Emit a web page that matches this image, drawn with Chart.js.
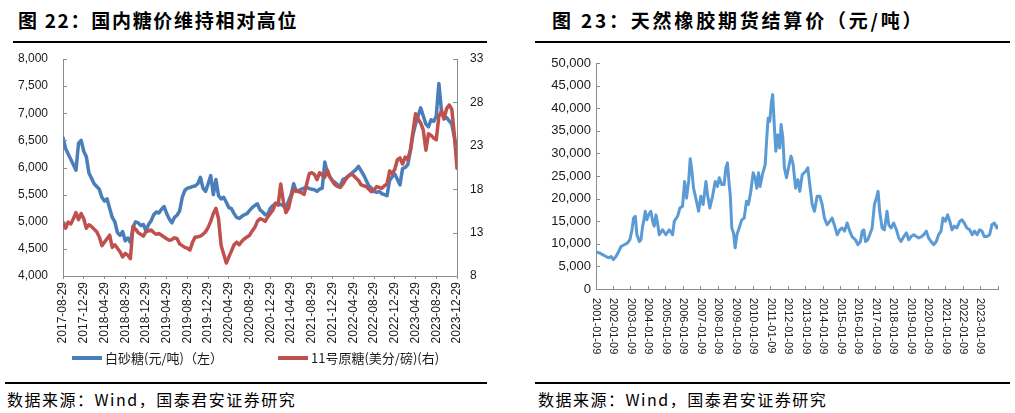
<!DOCTYPE html>
<html>
<head>
<meta charset="utf-8">
<script src="https://cdn.jsdelivr.net/npm/chart.js@4.4.0/dist/chart.umd.min.js"></script>
<style>
  body { margin: 0; width: 1015px; height: 413px; background: #fff; position: relative; overflow: hidden; font-family: "Noto Sans CJK SC", sans-serif; }
  .title { position: absolute; top: 8px; font-size: 19px; font-weight: bold; letter-spacing: 1.7px; line-height: 24px; color: #000; white-space: nowrap; }
  .rule { position: absolute; height: 2px; background: #000; }
  .src { position: absolute; top: 389px; font-size: 16px; letter-spacing: 1.5px; line-height: 20px; color: #000; white-space: nowrap; }
  canvas { position: absolute; }
</style>
</head>
<body>
<div class="title" style="left:18px">图 22：国内糖价维持相对高位</div>
<div class="rule" style="left:13px;width:474px;top:41px"></div>
<div class="title" style="left:552px;letter-spacing:2.8px">图 23：天然橡胶期货结算价（元/吨）</div>
<div class="rule" style="left:535px;width:475px;top:41px"></div>

<canvas id="sugarChart" width="495" height="325" style="left:0;top:50px"></canvas>
<canvas id="rubberChart" width="500" height="320" style="left:510px;top:50px"></canvas>

<div class="rule" style="left:5px;width:482px;top:382px"></div>
<div class="src" style="left:7px">数据来源：Wind，国泰君安证券研究</div>
<div class="rule" style="left:535px;width:475px;top:382px"></div>
<div class="src" style="left:538px">数据来源：Wind，国泰君安证券研究</div>

<script>
// ---- sugar: half-month steps from 2017-08-29 to 2023-12-29 ----
const sugarTickLabels = ['2017-08-29','2017-12-29','2018-04-29','2018-08-29','2018-12-29','2019-04-29','2019-08-29',
  '2019-12-29','2020-04-29','2020-08-29','2020-12-29','2021-04-29','2021-08-29','2021-12-29','2022-04-29',
  '2022-08-29','2022-12-29','2023-04-29','2023-08-29','2023-12-29'];

// 白砂糖 (元/吨)
const whiteSugar = [
  6550,6350,6250,6150,6050,5950,6450,6500, 6300,6200,5900,5800,5700,5650,5600,5450,
  5380,5420,5250,5080,5000,4800,4750,4820, 4650,4700,4620,4900,5000,4980,4930,4950,
  4830,4950,5020,5130,5180,5160,5230,5280, 5150,5050,4980,5080,5120,5200,5450,5580,
  5620,5630,5650,5660,5700,5820,5620,5560, 5700,5850,5500,5780,5480,5420,5450,5360,
  5260,5240,5150,5080,5060,5100,5130,5150, 5210,5260,5300,5330,5220,5180,5130,5140,
  5250,5300,5330,5310,5320,5290,5270,5380, 5500,5700,5560,5580,5600,5620,5640,5610,
  5600,5590,5560,5600,5620,6100,5900,5820, 5760,5720,5680,5660,5780,5800,5840,5880,
  5920,5960,6020,5940,5860,5760,5660,5620, 5560,5540,5560,5520,5500,5480,5760,5830,
  5880,5780,5680,5980,6000,6050,6300,6600, 6800,6950,7100,6950,6800,6750,6880,6850,
  6950,7550,7050,6900,6920,6860,6800,6550,6300
];

// 11号原糖 (美分/磅)
const rawSugar = [
  14.2,13.5,14.2,14.0,14.6,15.3,14.5,15.2, 14.6,13.5,13.9,13.7,13.4,13.1,12.5,11.5,
  11.9,12.3,12.7,11.3,11.6,11.2,10.8,10.2, 10.6,10.4,10.0,13.7,13.4,13.0,12.8,12.6,
  13.1,13.2,13.3,13.0,12.8,12.9,12.7,12.5, 12.3,12.1,12.2,12.4,12.3,11.7,11.5,11.3,
  11.2,11.0,11.9,12.5,12.5,12.6,12.8,13.1, 13.6,14.3,15.2,15.8,14.6,11.5,10.5,9.5,
  10.2,10.9,11.6,11.9,11.6,12.0,12.3,12.5, 12.7,13.2,13.6,14.3,14.6,14.5,14.3,14.8,
  15.2,15.6,16.4,16.2,18.6,16.6,15.3,15.8, 17.1,18.0,17.8,17.7,17.6,17.4,18.6,19.8,
  19.9,19.7,19.1,19.9,19.6,19.4,20.2,19.4, 18.9,18.5,18.3,18.2,18.6,19.1,19.5,19.7,
  19.6,19.3,19.0,18.5,18.4,18.3,18.0,17.7, 17.9,18.3,18.2,18.1,18.4,18.6,20.1,19.8,
  20.3,21.4,21.6,20.9,21.7,21.4,22.5,24.6, 26.7,26.1,25.6,24.8,22.5,24.4,24.2,23.9,
  23.7,26.4,27.0,26.1,27.3,27.7,27.2,24.2,20.4
];

// ---- rubber: years since 2001-01-09 ----
const rubberTickLabels = ['2001-01-09','2002-01-09','2003-01-09','2004-01-09','2005-01-09','2006-01-09',
  '2007-01-09','2008-01-09','2009-01-09','2010-01-09','2011-01-09','2012-01-09','2013-01-09','2014-01-09',
  '2015-01-09','2016-01-09','2017-01-09','2018-01-09','2019-01-09','2020-01-09','2021-01-09','2022-01-09','2023-01-09'];

const rubberYears = [
  0,0.19,0.38,0.57,0.72,0.86,0.99,1.14,1.3,1.43,
  1.62,1.81,1.94,2.06,2.15,2.25,2.34,2.48,2.57,2.67,
  2.76,2.82,2.91,3.01,3.14,3.24,3.33,3.43,3.52,3.62,
  3.81,4.0,4.19,4.38,4.48,4.67,4.8,4.95,5.07,5.18,
  5.3,5.39,5.49,5.58,5.71,5.87,6.0,6.13,6.29,6.38,
  6.51,6.67,6.82,6.95,7.05,7.2,7.33,7.43,7.52,7.62,
  7.68,7.77,7.87,7.96,8.06,8.19,8.34,8.48,8.61,8.72,
  8.86,8.99,9.1,9.2,9.3,9.39,9.52,9.68,9.77,9.85,
  9.94,10.04,10.11,10.21,10.29,10.4,10.51,10.59,10.69,10.78,
  10.9,11.05,11.16,11.28,11.42,11.55,11.66,11.8,11.99,12.12,
  12.23,12.37,12.5,12.65,12.81,12.94,13.07,13.22,13.38,13.51,
  13.66,13.8,13.95,14.08,14.22,14.37,14.52,14.65,14.84,14.99,
  15.13,15.23,15.32,15.42,15.55,15.66,15.8,15.93,16.04,16.14,
  16.23,16.37,16.5,16.65,16.75,16.88,17.03,17.19,17.32,17.45,
  17.61,17.76,17.89,18.03,18.18,18.33,18.46,18.62,18.75,18.9,
  19.03,19.17,19.32,19.47,19.6,19.74,19.85,19.99,20.12,20.24,
  20.37,20.5,20.65,20.81,20.94,21.07,21.22,21.38,21.53,21.66,
  21.8,21.95,22.08,22.22,22.37,22.52,22.65,22.79,22.94,23.0
];
const rubberPrice = [
  8200,8000,7600,7200,6900,7200,6500,7200,8300,9400,
  9800,10200,10900,13100,15700,16100,12000,10500,10900,13900,
  15700,17200,15300,16400,17200,15000,13900,16400,14600,12000,
  13100,12000,13100,12000,15000,16100,17900,18300,23800,20100,
  23800,28800,26000,22300,20100,17200,20500,18700,23800,20900,
  17900,20500,23800,22700,24600,23100,23100,26800,27900,23100,
  20900,13500,12400,9100,12000,13500,15300,15700,19400,18700,
  21600,25700,24600,22300,25700,22700,25300,27500,33400,37800,
  37100,41500,43000,35600,30500,34100,31200,36400,33400,26800,
  24600,27500,29400,27500,22300,24200,21600,25300,26000,26800,
  23100,18700,17200,20500,20500,18700,15700,14200,15000,15700,
  13900,12000,13100,13500,12800,14600,12800,11600,10900,9800,
  10500,12800,13100,10500,10900,12000,13500,18700,20100,21600,
  17200,13500,13100,17200,14200,13500,14600,13100,11300,10500,
  11600,12400,10900,11600,12000,11600,11300,11600,12000,12800,
  11300,10500,9800,10500,12000,12800,15700,15000,16400,15000,
  13100,13900,13500,15000,15300,14600,13500,13100,12000,12800,
  12000,13100,12800,11600,11600,12000,14200,14600,13500,13900
];

const AXIS = '#8c8c8c';
const TXT = '#1a1a1a';
const CLEAR = 'rgba(0,0,0,0)';
Chart.defaults.font.family = '"Liberation Sans", Arial, sans-serif';
Chart.defaults.color = TXT;

const lineStyle = { pointRadius: 0, borderJoinStyle: 'round', borderCapStyle: 'round', tension: 0, fill: false };

// small tick marks pointing into the plot, like the Excel original
function innerTicks(ids, len) {
  return {
    id: 'innerTicks',
    afterDraw(chart) {
      const ctx = chart.ctx;
      ctx.save();
      ctx.strokeStyle = AXIS;
      ctx.lineWidth = 1;
      ids.forEach(id => {
        const sc = chart.scales[id];
        sc.ticks.forEach(t => {
          const p = Math.round(sc.getPixelForValue(t.value)) + 0.5;
          ctx.beginPath();
          if (sc.position === 'left') { ctx.moveTo(sc.right, p); ctx.lineTo(sc.right + len, p); }
          else { ctx.moveTo(sc.left, p); ctx.lineTo(sc.left - len, p); }
          ctx.stroke();
        });
      });
      ctx.restore();
    },
  };
}

const sugarLegend = {
  id: 'sugarLegend',
  afterDraw(chart) {
    const ctx = chart.ctx;
    const xs = [72, 278];
    ctx.save();
    ctx.font = '13px "Noto Sans CJK SC", sans-serif';
    ctx.textBaseline = 'middle';
    chart.data.datasets.forEach((ds, i) => {
      ctx.fillStyle = ds.borderColor;
      ctx.fillRect(xs[i], 306, 30, 4);
      ctx.fillStyle = TXT;
      ctx.fillText(ds.label, xs[i] + 33, 308);
    });
    ctx.restore();
  },
};

new Chart(document.getElementById('sugarChart'), {
  type: 'line',
  data: {
    datasets: [
      { ...lineStyle, label: '白砂糖(元/吨)（左）', data: whiteSugar.map((v, i) => ({ x: i * 0.5, y: v })),
        borderColor: '#4a7ebb', borderWidth: 3.5, yAxisID: 'y', order: 1 },
      { ...lineStyle, label: '11号原糖(美分/磅)(右)', data: rawSugar.map((v, i) => ({ x: i * 0.5, y: v })),
        borderColor: '#c0504d', borderWidth: 3.5, yAxisID: 'y1', order: 0 },
    ],
  },
  options: {
    responsive: false,
    animation: false,
    layout: { padding: { top: 9, left: 0, right: 0, bottom: 29 } },
    plugins: { legend: { display: false }, tooltip: { enabled: false } },
    scales: {
      x: {
        type: 'linear', min: 0, max: 76,
        border: { color: AXIS, width: 1 },
        grid: { drawOnChartArea: false, color: AXIS, tickLength: 3 },
        ticks: { stepSize: 4, autoSkip: false, minRotation: 90, maxRotation: 90, padding: 3, font: { size: 12 },
          callback: v => sugarTickLabels[v / 4] },
        afterFit: s => { s.height = 70; },
      },
      y: {
        position: 'left', min: 4000, max: 8000,
        border: { color: AXIS, width: 1 },
        grid: { drawOnChartArea: false, tickColor: CLEAR, tickLength: 15 },
        ticks: { stepSize: 500, padding: 0, font: { size: 12 }, callback: v => v.toLocaleString('en-US') },
        afterFit: s => { s.width = 63; },
      },
      y1: {
        position: 'right', min: 8, max: 33,
        border: { color: AXIS, width: 1 },
        grid: { drawOnChartArea: false, tickColor: CLEAR, tickLength: 13 },
        ticks: { stepSize: 5, padding: 0, font: { size: 12 } },
        afterFit: s => { s.width = 38; },
      },
    },
  },
  plugins: [innerTicks(['y', 'y1'], 4), sugarLegend],
});

// x labels of the rubber chart read top-to-bottom, so they are drawn here
const clockwiseLabels = {
  id: 'clockwiseLabels',
  afterDraw(chart) {
    const sc = chart.scales.x;
    const ctx = chart.ctx;
    ctx.save();
    ctx.font = '11px "Liberation Sans", Arial, sans-serif';
    ctx.fillStyle = TXT;
    ctx.textAlign = 'left';
    ctx.textBaseline = 'middle';
    rubberTickLabels.forEach((lab, i) => {
      ctx.save();
      ctx.translate(sc.getPixelForValue(i), sc.top + 9);
      ctx.rotate(Math.PI / 2);
      ctx.fillText(lab, 0, 0);
      ctx.restore();
    });
    ctx.restore();
  },
};

new Chart(document.getElementById('rubberChart'), {
  type: 'line',
  data: {
    datasets: [
      { ...lineStyle, label: '天然橡胶期货结算价', data: rubberPrice.map((v, i) => ({ x: rubberYears[i], y: v })),
        borderColor: '#5b9bd5', borderWidth: 3 },
    ],
  },
  options: {
    responsive: false,
    animation: false,
    layout: { padding: { top: 13, left: 0, right: 12, bottom: 0 } },
    plugins: { legend: { display: false }, tooltip: { enabled: false } },
    scales: {
      x: {
        type: 'linear', min: 0, max: 23,
        border: { color: AXIS, width: 1 },
        grid: { drawOnChartArea: false, color: AXIS, tickLength: -3 },
        ticks: { display: false, stepSize: 1 },
        afterFit: s => { s.height = 81; },
      },
      y: {
        min: 0, max: 50000,
        border: { color: AXIS, width: 1 },
        grid: { drawOnChartArea: false, tickColor: CLEAR, tickLength: 5 },
        ticks: { stepSize: 5000, padding: 0, font: { size: 13 }, callback: v => v.toLocaleString('en-US') },
        afterFit: s => { s.width = 86; },
      },
    },
  },
  plugins: [innerTicks(['y'], 4), clockwiseLabels],
});
</script>
</body>
</html>
